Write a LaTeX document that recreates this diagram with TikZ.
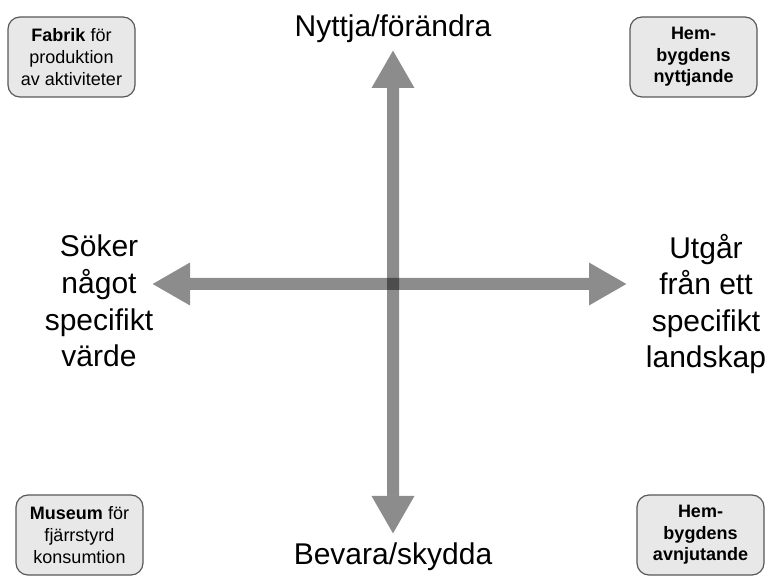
\documentclass[tikz,border=0pt]{standalone}
\usepackage{fontspec}
\setmainfont{Liberation Sans}
\usetikzlibrary{positioning}
\usetikzlibrary{arrows.meta}

\tikzset{
	quadbox/.style={draw=black!65, line width=1.2pt, rounded corners=12pt, fill=black!9, minimum width=127pt, minimum height=80pt, inner sep=0pt, align=center, font=\fontsize{18}{21.6}\selectfont},
	axislabel/.style={inner sep=0pt, align=center, font=\fontsize{30}{36.6}\selectfont},
	axis/.style={line width=12pt, arrows={Triangle[width=40pt,length=38pt]-Triangle[width=40pt,length=38pt]}}
}

\begin{document}
\begin{tikzpicture}[x=1pt, y=-1pt]
			\useasboundingbox (0,0) rectangle (772,585);
			\coordinate (up) at (393,50);
			\coordinate (down) at (393,534);
			\coordinate (left) at (152,284);
			\coordinate (right) at (627,284);
			\begin{scope}[transparency group, opacity=.45]
				\draw[axis] (left) -- (right);
			\end{scope}
			\begin{scope}[transparency group, opacity=.45]
				\draw[axis] (down) -- (up);
			\end{scope}
			\node[axislabel, above=7pt of up] (nyttja) {Nyttja/förändra};
			\node[axislabel, below=9pt of down] (bevara) {Bevara/skydda};
			\node[axislabel] (soker) at (99,301) {Söker\\något\\specifikt\\värde};
			\node[axislabel] (utgar) at (706,304) {Utgår\\från ett\\specifikt\\landskap};
			\node[quadbox] (fabrik) at (71.5,57) {\textbf{Fabrik} för\\produktion\\av aktiviteter};
			\node[quadbox] (nyttjande) at (693.5,57) {\textbf{Hem-}\\\textbf{bygdens}\\\textbf{nyttjande}};
			\node[quadbox] (museum) at (79.5,535) {\textbf{Museum} för\\fjärrstyrd\\konsumtion};
			\node[quadbox] (avnjutande) at (700.5,535) {\textbf{Hem-}\\\textbf{bygdens}\\\textbf{avnjutande}};
		\end{tikzpicture}
\end{document}
